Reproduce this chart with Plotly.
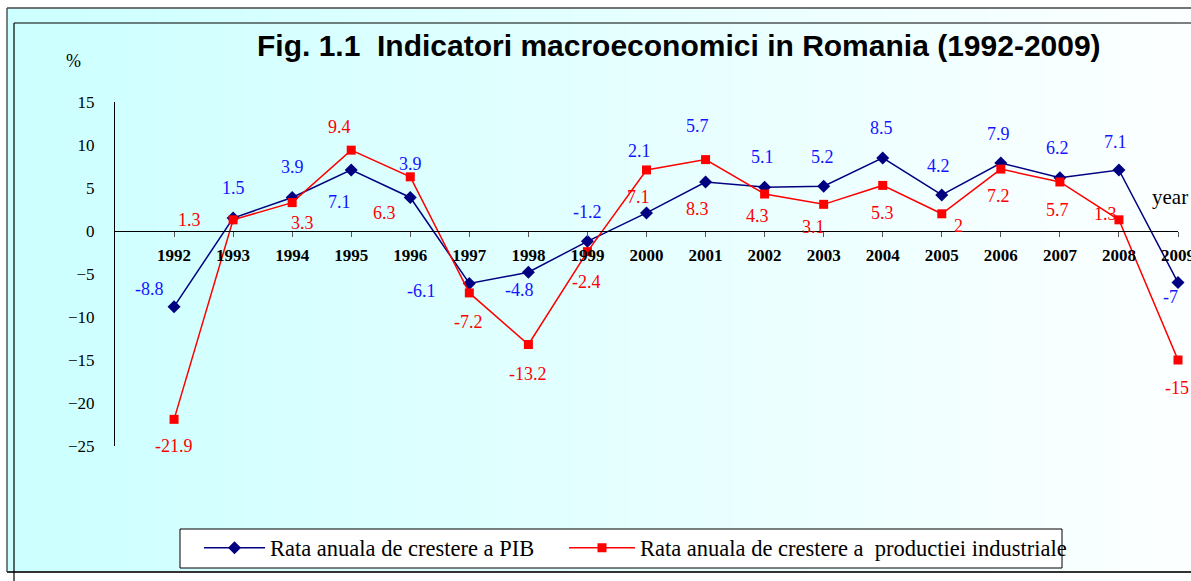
import plotly.graph_objects as go

# ---------------- data ----------------
years = list(range(1992, 2010))
gdp = [-8.8, 1.5, 3.9, 7.1, 3.9, -6.1, -4.8, -1.2, 2.1, 5.7, 5.1, 5.2, 8.5, 4.2, 7.9, 6.2, 7.1, -6.0]
gdp_labels = ["-8.8", "1.5", "3.9", "7.1", "3.9", "-6.1", "-4.8", "-1.2", "2.1", "5.7",
              "5.1", "5.2", "8.5", "4.2", "7.9", "6.2", "7.1", "-7"]
ind = [-21.9, 1.3, 3.3, 9.4, 6.3, -7.2, -13.2, -2.4, 7.1, 8.3, 4.3, 3.1, 5.3, 2.0, 7.2, 5.7, 1.3, -15.0]
ind_labels = ["-21.9", "1.3", "3.3", "9.4", "6.3", "-7.2", "-13.2", "-2.4", "7.1", "8.3",
              "4.3", "3.1", "5.3", "2", "7.2", "5.7", "1.3", "-15"]
y_ticks = [15, 10, 5, 0, -5, -10, -15, -20, -25]

# label offsets (pixels, relative to the point) - style only
gdp_dx = [-25, 0, 0, -12, 0, -48, -9, 0, -7, -8, -2, -1, -1, -3, -2, -2, -3, -8]
gdp_dy = [18, 30, 30, -32, 33, -8, -18, 29, 62, 56, 30, 29, 30, 29, 29, 30, 28, -14]
ind_dx = [0, -44, 10, -12, -26, -1, 0, -1, -8, -8, -7, -10, 0, 17, -2, -2, -13, -1]
ind_dy = [-27, 0, -20, 23, -36, -29, -29, -30, -27, -49, -22, -23, -28, -12, -27, -28, 6, -28]

# ---------------- geometry helpers (style) ----------------
W, H = 1191, 581
L, R, T, B = 115, 1178, 102, 446
def px(x):
    return (x - L) / (R - L)
def py(y):
    return (B - y) / (B - T)

SERIF = "Liberation Serif, Times New Roman, serif"
SANS = "Liberation Sans, Arial, sans-serif"

fig = go.Figure()
fig.add_trace(go.Scatter(
    x=years, y=gdp, mode="lines+markers", name="Rata anuala de crestere a PIB",
    line=dict(color="#000080", width=1.5),
    marker=dict(symbol="diamond", size=10, color="#000080"),
    cliponaxis=False, legend="legend",
))
fig.add_trace(go.Scatter(
    x=years, y=ind, mode="lines+markers", name="Rata anuala de crestere a  productiei industriale",
    line=dict(color="#FF0000", width=1.5),
    marker=dict(symbol="square", size=9, color="#FF0000"),
    cliponaxis=False, legend="legend2",
))

annotations = []
for i, yr in enumerate(years):
    annotations.append(dict(x=yr, y=gdp[i], xref="x", yref="y", text=gdp_labels[i], showarrow=False,
                            xshift=gdp_dx[i], yshift=gdp_dy[i], xanchor="center", yanchor="middle",
                            font=dict(family=SERIF, size=18, color="#1414FF")))
    annotations.append(dict(x=yr, y=ind[i], xref="x", yref="y", text=ind_labels[i], showarrow=False,
                            xshift=ind_dx[i], yshift=ind_dy[i], xanchor="center", yanchor="middle",
                            font=dict(family=SERIF, size=18, color="#FF0000")))

annotations.append(dict(x=px(678.5), y=py(46), xref="paper", yref="paper",
                        xanchor="center", yanchor="middle",
                        text="<b>Fig. 1.1  Indicatori macroeconomici in Romania (1992-2009)</b>",
                        showarrow=False, font=dict(family=SANS, size=30, color="black")))
annotations.append(dict(x=px(73), y=py(61), xref="paper", yref="paper", text="%",
                        xanchor="center", yanchor="middle",
                        showarrow=False, font=dict(family=SERIF, size=18, color="black")))
annotations.append(dict(x=px(1150), y=py(197), xref="paper", yref="paper", text="year",
                        xanchor="left", yanchor="middle",
                        showarrow=False, font=dict(family=SERIF, size=21, color="black")))

# background gradient strips + frame lines
shapes = []
N = 80
gx0, gx1, gy0, gy1 = 7, 1195, 8, 572
c0 = (204, 255, 255)
c1 = (252, 255, 255)
for k in range(N):
    t = k / (N - 1)
    c = tuple(round(c0[j] + (c1[j] - c0[j]) * t) for j in range(3))
    xa = gx0 + (gx1 - gx0) * k / N
    xb = gx0 + (gx1 - gx0) * (k + 1) / N + 0.8
    shapes.append(dict(type="rect", xref="paper", yref="paper", x0=px(xa), x1=px(xb),
                       y0=py(gy1), y1=py(gy0), line=dict(width=0),
                       fillcolor="rgb(%d,%d,%d)" % c, layer="below"))
# outer gray frame
shapes.append(dict(type="line", xref="paper", yref="paper", x0=px(7), x1=px(1195), y0=py(8), y1=py(8),
                   line=dict(color="#444444", width=1.5)))
shapes.append(dict(type="line", xref="paper", yref="paper", x0=px(7), x1=px(7), y0=py(8), y1=py(572),
                   line=dict(color="#555555", width=1.5)))
shapes.append(dict(type="line", xref="paper", yref="paper", x0=px(7), x1=px(1195), y0=py(572), y1=py(572),
                   line=dict(color="#333333", width=2)))
# inner black frame
shapes.append(dict(type="line", xref="paper", yref="paper", x0=px(14), x1=px(1195), y0=py(23), y1=py(23),
                   line=dict(color="black", width=1.2)))
shapes.append(dict(type="line", xref="paper", yref="paper", x0=px(14), x1=px(14), y0=py(23), y1=py(585),
                   line=dict(color="black", width=1.2)))
# legend box
shapes.append(dict(type="rect", xref="paper", yref="paper", x0=px(180), x1=px(1062), y0=py(568), y1=py(529),
                   line=dict(color="black", width=1), fillcolor="white", layer="below"))

leg_common = dict(orientation="h", xanchor="left", yanchor="middle", y=py(548),
                  bgcolor="rgba(0,0,0,0)", borderwidth=0,
                  font=dict(family=SERIF, size=22.5, color="black"))

fig.update_layout(
    width=W, height=H,
    margin=dict(l=L, r=W - R, t=T, b=H - B, pad=0, autoexpand=False),
    paper_bgcolor="white",
    plot_bgcolor="rgba(0,0,0,0)",
    showlegend=True,
    legend=dict(x=px(199), itemwidth=61, **leg_common),
    legend2=dict(x=px(564), itemwidth=66, **leg_common),
    annotations=annotations,
    shapes=shapes,
    xaxis=dict(range=[1991, 2009], tickvals=years, ticktext=[str(y) for y in years],
               showgrid=False, zeroline=False, showline=True, linecolor="black", linewidth=1,
               anchor="free", position=25 / 40, ticklabeloverflow="allow", automargin=False,
               ticks="outside", ticklen=5, tickcolor="#555555", ticklabelstandoff=4,
               tickfont=dict(family=SERIF, size=17, color="black", weight="bold")),
    yaxis=dict(range=[-25, 15], tickvals=y_ticks, showgrid=False, zeroline=False,
               showline=True, linecolor="black", linewidth=1, ticks="", automargin=False,
               ticklabelstandoff=16,
               tickfont=dict(family=SERIF, size=17, color="black")),
)

fig.write_html("out.html", config={"displayModeBar": False},
               post_script="document.body.style.margin='0';document.body.style.overflow='hidden';")
